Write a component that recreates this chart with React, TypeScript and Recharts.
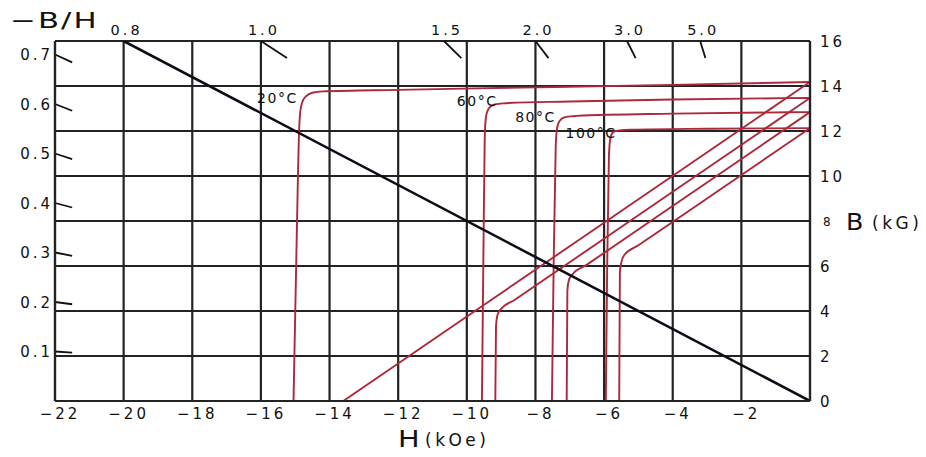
import React from 'react';
import { LineChart, Line, XAxis, YAxis, CartesianGrid, ReferenceLine, ReferenceDot } from 'recharts';

// Axis ticks
const hTicks = [-22, -20, -18, -16, -14, -12, -10, -8, -6, -4, -2];
const bTicks = [0, 2, 4, 6, 8, 10, 12, 14, 16];
const ratioTicks = [0.1, 0.2, 0.3, 0.4, 0.5, 0.6, 0.7];
const topSlopes = [0.8, 1.0, 1.5, 2.0, 3.0, 5.0];
const topSlopeLabels = ['0.8', '1.0', '1.5', '2.0', '3.0', '5.0'];

// Intrinsic demagnetization curves (H in kOe, B in kG)
const intrinsic20 = [
  { h: -15.05, b: 0 }, { h: -14.96, b: 7 }, { h: -14.88, b: 12.3 }, { h: -14.85, b: 12.9 },
  { h: -14.79, b: 13.3 }, { h: -14.68, b: 13.55 }, { h: -14.5, b: 13.7 }, { h: -14.2, b: 13.76 },
  { h: -12, b: 13.83 }, { h: -8, b: 13.94 }, { h: -4, b: 14.05 }, { h: 0, b: 14.18 },
];
const intrinsic60 = [
  { h: -9.56, b: 0 }, { h: -9.52, b: 6 }, { h: -9.48, b: 11.5 }, { h: -9.46, b: 12.35 },
  { h: -9.42, b: 12.8 }, { h: -9.33, b: 13.06 }, { h: -9.18, b: 13.18 }, { h: -8.95, b: 13.23 },
  { h: -7, b: 13.31 }, { h: -4, b: 13.4 }, { h: 0, b: 13.47 },
];
const intrinsic80 = [
  { h: -7.52, b: 0 }, { h: -7.47, b: 6 }, { h: -7.41, b: 11.3 }, { h: -7.38, b: 12.0 },
  { h: -7.33, b: 12.35 }, { h: -7.24, b: 12.54 }, { h: -7.1, b: 12.63 }, { h: -6.8, b: 12.67 },
  { h: -4, b: 12.77 }, { h: 0, b: 12.84 },
];
const intrinsic100 = [
  { h: -5.95, b: 0 }, { h: -5.91, b: 6 }, { h: -5.86, b: 10.8 }, { h: -5.83, b: 11.55 },
  { h: -5.78, b: 11.86 }, { h: -5.68, b: 11.99 }, { h: -5.5, b: 12.04 }, { h: -5.2, b: 12.06 },
  { h: -3, b: 12.1 }, { h: 0, b: 12.13 },
];

// Normal B-H curves
const normal20 = [{ h: -13.6, b: 0 }, { h: -6.8, b: 7.09 }, { h: 0, b: 14.18 }];
const normal60 = [
  { h: -9.17, b: 0 }, { h: -9.15, b: 3.3 }, { h: -9.11, b: 3.8 }, { h: -9.02, b: 4.06 },
  { h: -8.6, b: 4.5 }, { h: -4, b: 9.3 }, { h: 0, b: 13.47 },
];
const normal80 = [
  { h: -7.09, b: 0 }, { h: -7.07, b: 4.9 }, { h: -7.03, b: 5.35 }, { h: -6.94, b: 5.6 },
  { h: -6.5, b: 6.06 }, { h: -3, b: 9.71 }, { h: 0, b: 12.84 },
];
const normal100 = [
  { h: -5.56, b: 0 }, { h: -5.54, b: 5.7 }, { h: -5.5, b: 6.15 }, { h: -5.41, b: 6.49 },
  { h: -5, b: 6.92 }, { h: -2.5, b: 9.52 }, { h: 0, b: 12.13 },
];

// Load line through the origin
const loadLine = [{ h: -20, b: 16 }, { h: 0, b: 0 }];

// Temperature labels
const tempLabels = [
  { text: '20°C', h: -15.52, b: 13.47 },
  { text: '60°C', h: -9.7, b: 13.33 },
  { text: '80°C', h: -8.0, b: 12.62 },
  { text: '100°C', h: -6.38, b: 11.93 },
];

const H_MIN = -22;
const B_MAX = 16;

const FONT = '"DejaVu Sans", "Liberation Sans", sans-serif';
const INK = '#111';
const GRID = '#232323';
const RED = '#ad2839';

const redCurves = [intrinsic20, normal20, intrinsic60, normal60, intrinsic80, normal80, intrinsic100, normal100];

const BottomTick = (props: any) => {
  const { x, y, payload } = props;
  return (
    <text x={x + 5} y={y + 17.5} textAnchor="middle" fontSize={15} letterSpacing={3} fontFamily={FONT} fill={INK}>
      {`\u2212${Math.abs(payload.value)}`}
    </text>
  );
};

const LeftTick = (props: any) => {
  const { x, y, payload } = props;
  return (
    <text x={x - 2} y={y + 5.5} textAnchor="end" fontSize={15} letterSpacing={3} fontFamily={FONT} fill={INK}>
      {payload.value.toFixed(1)}
    </text>
  );
};

const RightTick = (props: any) => {
  const { x, y, payload } = props;
  const small = payload.value === 8;
  return (
    <text x={x + (small ? 13 : 10)} y={y + (small ? 4.5 : 5.5)} textAnchor="start" fontSize={small ? 12 : 15} letterSpacing={3} fontFamily={FONT} fill={INK}>
      {payload.value}
    </text>
  );
};

const HTitle = (props: any) => {
  const vb = props.viewBox || { x: 55, y: 401 };
  return (
    <g fill={INK} fontFamily={FONT}>
      <text transform={`translate(${vb.x + 343},${vb.y + 46}) scale(1.25,1)`} fontSize={23}>H</text>
      <text x={vb.x + 370} y={vb.y + 45} fontSize={17} letterSpacing={3.5}>(kOe)</text>
    </g>
  );
};

const BTitle = (props: any) => {
  const vb = props.viewBox || { x: 810, y: 41, height: 360 };
  const cy = vb.y + vb.height / 2;
  return (
    <g fill={INK} fontFamily={FONT}>
      <text transform={`translate(${vb.x + 36},${cy + 8.5}) scale(1.1,1)`} fontSize={23}>B</text>
      <text x={vb.x + 62} y={cy + 8} fontSize={17} letterSpacing={3.5}>(kG)</text>
    </g>
  );
};

const RatioTitle = (props: any) => {
  const vb = props.viewBox || { x: 0, y: 41 };
  return (
    <text transform={`translate(${vb.x + 10},${vb.y - 13}) scale(1.4,1)`} fontSize={22} letterSpacing={1.5} fontFamily={FONT} fill={INK}>
      −B/H
    </text>
  );
};

export default function App() {
  return (
    <div style={{ position: 'absolute', left: 0, top: 0, background: '#fff' }}>
      <LineChart width={926} height={457} margin={{ top: 41, right: 0, bottom: 0, left: 0 }}>
        <CartesianGrid xAxisId="h" yAxisId="b" stroke={GRID} strokeWidth={2.2} />
        <XAxis
          xAxisId="h"
          type="number"
          dataKey="h"
          domain={[H_MIN, 0]}
          ticks={hTicks}
          height={56}
          tickSize={0}
          tickMargin={0}
          tickLine={false}
          axisLine={{ stroke: GRID, strokeWidth: 2.2 }}
          tick={<BottomTick />}
          interval={0}
          allowDataOverflow
          label={HTitle}
        />
        <YAxis
          yAxisId="ratio"
          orientation="left"
          type="number"
          domain={[0, B_MAX / -H_MIN]}
          ticks={ratioTicks}
          width={55}
          tickSize={0}
          tickMargin={0}
          tickLine={false}
          axisLine={{ stroke: GRID, strokeWidth: 2.2 }}
          tick={<LeftTick />}
          interval={0}
          allowDataOverflow
          label={RatioTitle}
        />
        <YAxis
          yAxisId="b"
          orientation="right"
          type="number"
          domain={[0, B_MAX]}
          ticks={bTicks}
          width={116}
          tickSize={0}
          tickMargin={0}
          tickLine={false}
          axisLine={{ stroke: GRID, strokeWidth: 2.2 }}
          tick={<RightTick />}
          interval={0}
          allowDataOverflow
          label={BTitle}
        />

        {redCurves.map((data, i) => (
          <Line
            key={i}
            xAxisId="h"
            yAxisId="b"
            data={data}
            dataKey="b"
            type="monotone"
            stroke={RED}
            strokeWidth={1.9}
            dot={false}
            activeDot={false}
            isAnimationActive={false}
          />
        ))}
        <Line
          xAxisId="h"
          yAxisId="b"
          data={loadLine}
          dataKey="b"
          type="linear"
          stroke="#0c0c18"
          strokeWidth={2.6}
          dot={false}
          activeDot={false}
          isAnimationActive={false}
        />

        {/* slanted permeance marks along the top edge */}
        {topSlopes.slice(1).map((s) => (
          <ReferenceLine
            key={`t${s}`}
            xAxisId="h"
            yAxisId="b"
            segment={[{ x: -B_MAX / s, y: B_MAX }, { x: -(B_MAX - 0.76) / s, y: B_MAX - 0.76 }]}
            stroke={INK}
            strokeWidth={1.8}
          />
        ))}
        {/* permeance labels above the top edge */}
        {topSlopes.map((s, i) => (
          <ReferenceDot
            key={`tl${s}`}
            xAxisId="h"
            yAxisId="b"
            x={-B_MAX / s}
            y={B_MAX}
            r={0}
            ifOverflow="visible"
            shape={(p: any) => (
              <text x={p.cx + 3} y={p.cy - 6.5} textAnchor="middle" fontSize={14.5} letterSpacing={3} fontFamily={FONT} fill={INK}>
                {topSlopeLabels[i]}
              </text>
            )}
          />
        ))}
        {/* slanted permeance marks along the left edge */}
        {ratioTicks.map((s) => (
          <ReferenceLine
            key={`l${s}`}
            xAxisId="h"
            yAxisId="b"
            segment={[{ x: H_MIN, y: -H_MIN * s }, { x: H_MIN + 0.5, y: -(H_MIN + 0.5) * s }]}
            stroke={INK}
            strokeWidth={1.8}
          />
        ))}

        {tempLabels.map((t) => (
          <ReferenceDot
            key={t.text}
            xAxisId="h"
            yAxisId="b"
            x={t.h}
            y={t.b}
            r={0}
            shape={(p: any) => (
              <text x={p.cx} y={p.cy + 5} textAnchor="middle" fontSize={14} letterSpacing={1.5} fontFamily={FONT} fill={INK}>
                {t.text}
              </text>
            )}
          />
        ))}
      </LineChart>
    </div>
  );
}
